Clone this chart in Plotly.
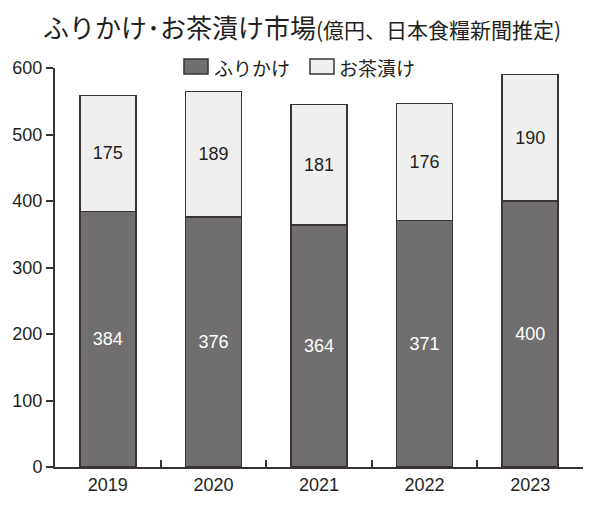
import plotly.graph_objects as go

years = ["2019", "2020", "2021", "2022", "2023"]
furikake = [384, 376, 364, 371, 400]
ochazuke = [175, 189, 181, 176, 190]
series_names = ["ふりかけ", "お茶漬け"]

JP = "Noto Sans CJK JP"
NUM = "Liberation Sans, Arial, sans-serif"
INK = "#231f20"
EDGE = "#3a3434"
DARK = "#706e6e"
LIGHT = "#efefef"

# page is shown with an 8px body offset, so layout is laid out in figure pixels
W, H = 600, 508
L, R, T, B = 47, 25, 60, 49
PW, PH = W - L - R, H - T - B


def px(x):
    return (x - L) / PW


def py(y):
    return 1 - (y - T) / PH


fig = go.Figure()
fig.add_trace(go.Bar(
    x=years, y=furikake, name=series_names[0],
    marker=dict(color=DARK, line=dict(color=EDGE, width=1.5)),
    text=furikake, textposition="inside", insidetextanchor="middle",
    textfont=dict(color="white", size=18, family=NUM),
))
fig.add_trace(go.Bar(
    x=years, y=ochazuke, name=series_names[1],
    marker=dict(color=LIGHT, line=dict(color=EDGE, width=1.5)),
    text=ochazuke, textposition="inside", insidetextanchor="middle",
    textfont=dict(color=INK, size=18, family=NUM),
))

fig.update_layout(
    barmode="stack",
    bargap=0.47,
    width=W, height=H,
    margin=dict(l=L, r=R, t=T, b=B, autoexpand=False),
    paper_bgcolor="white", plot_bgcolor="white",
    showlegend=False,
    uniformtext=dict(mode=False),
)

# title
fig.add_annotation(
    xref="paper", yref="paper", x=px(34), y=py(18),
    xanchor="left", yanchor="middle", showarrow=False, borderpad=0,
    text="ふりかけ･お茶漬け市場<span style='font-size:21px'>(億円、日本食糧新聞推定)</span>",
    font=dict(family=JP, size=26, color=INK),
)

# legend drawn by hand (wide swatches)
for name, color, sx, tx in [(series_names[0], DARK, 176, 204), (series_names[1], LIGHT, 302, 329)]:
    fig.add_shape(
        type="rect", xref="paper", yref="paper",
        x0=px(sx), x1=px(sx + 24), y0=py(66), y1=py(51),
        fillcolor=color, line=dict(color=EDGE, width=1.5),
    )
    fig.add_annotation(
        xref="paper", yref="paper", x=px(tx), y=py(59),
        xanchor="left", yanchor="middle", showarrow=False,
        text=name, font=dict(family=JP, size=19, color=INK),
    )

fig.update_xaxes(
    showline=True, linecolor=EDGE, linewidth=2,
    ticks="inside", tickson="boundaries", ticklen=7, tickcolor=EDGE, tickwidth=1.5,
    tickfont=dict(family=NUM, size=18, color=INK),
    showgrid=False,
)
fig.update_yaxes(
    range=[0, 600], dtick=100, showline=True, linecolor=EDGE, linewidth=2,
    ticks="outside", ticklen=7, tickcolor=EDGE, tickwidth=1.5,
    tickfont=dict(family=NUM, size=18, color=INK),
    showgrid=False, zeroline=False,
)

fig.write_html("out.html")
